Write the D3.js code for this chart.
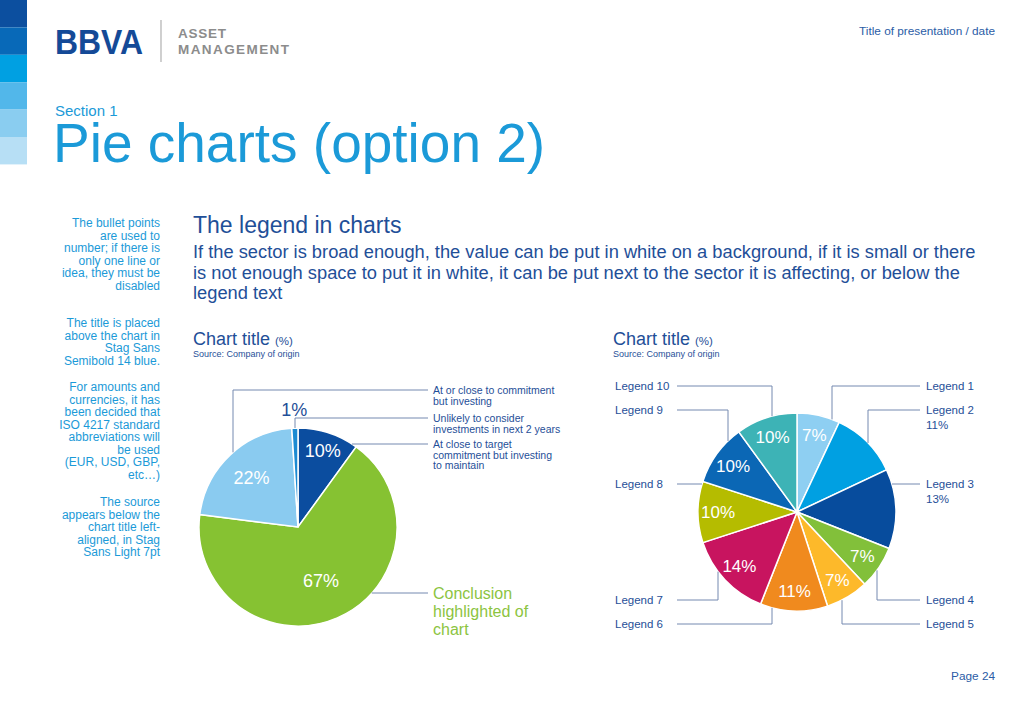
<!DOCTYPE html>
<html>
<head>
<meta charset="utf-8">
<script src="https://cdn.jsdelivr.net/npm/d3@7"></script>
<style>
  body { margin: 0; background: #fff; }
  svg { display: block; font-family: "Liberation Sans", Arial, sans-serif; }
</style>
</head>
<body>
<svg id="page" width="1023" height="708"></svg>
<script>
// Dades dels dos gràfics
const leftLabels = [
    'At close to target commitment but investing to maintain',
    'Conclusion highlighted of chart',
    'At or close to commitment but investing',
    'Unlikely to consider investments in next 2 years'
];
const leftValues = [10, 67, 22, 1];

const rightLabels = ['Legend 1', 'Legend 2', 'Legend 3', 'Legend 4', 'Legend 5',
    'Legend 6', 'Legend 7', 'Legend 8', 'Legend 9', 'Legend 10'];
const rightValues = [7, 11, 13, 7, 7, 11, 14, 10, 10, 10];

const sidebarNotes = [
    ['The bullet points', 'are used to', 'number; if there is', 'only one line or', 'idea, they must be', 'disabled'],
    ['The title is placed', 'above the chart in', 'Stag Sans', 'Semibold 14 blue.'],
    ['For amounts and', 'currencies, it has', 'been decided that', 'ISO 4217 standard', 'abbreviations will', 'be used', '(EUR, USD, GBP,', 'etc…)'],
    ['The source', 'appears below the', 'chart title left-', 'aligned, in Stag', 'Sans Light 7pt']
];

const introLines = [
    'If the sector is broad enough, the value can be put in white on a background, if it is small or there',
    'is not enough space to put it in white, it can be put next to the sector it is affecting, or below the',
    'legend text'
];

// Colors
const leftColors = ['#0b4d9f', '#86c232', '#8acbf0', '#1c8bd2'];
const rightColors = ['#8ecff2', '#00a0e2', '#074c9d', '#82c03a', '#fdb92a',
    '#f08a1e', '#c8145f', '#b5bc00', '#0b67b5', '#3db3b6'];
const darkBlue = '#1f4f98';
const lightBlue = '#1b9ad8';
const leaderColor = '#7489b0';

const svg = d3.select('#page');

// ---------- Capçalera ----------
const bands = ['#0c4f9f', '#0869b8', '#00a0e2', '#52b7ea', '#8acdf0', '#b7dff5'];
svg.selectAll('.band').data(bands).enter().append('rect')
    .attr('x', 0).attr('y', (d, i) => i * 27.4)
    .attr('width', 27).attr('height', 27.4)
    .attr('fill', d => d);

svg.append('text')
    .attr('x', 55).attr('y', 54)
    .attr('font-size', 35).attr('font-weight', 'bold')
    .attr('fill', '#144a97')
    .attr('textLength', 88).attr('lengthAdjust', 'spacingAndGlyphs')
    .text('BBVA');
svg.append('line')
    .attr('x1', 161).attr('x2', 161).attr('y1', 20).attr('y2', 62)
    .attr('stroke', '#b0b0b0').attr('stroke-width', 1.2);
svg.append('text')
    .attr('x', 178).attr('y', 38).attr('font-size', 13.5).attr('font-weight', 'bold')
    .attr('fill', '#8c8c8c').attr('textLength', 48).attr('lengthAdjust', 'spacing')
    .text('ASSET');
svg.append('text')
    .attr('x', 178).attr('y', 54).attr('font-size', 13.5).attr('font-weight', 'bold')
    .attr('fill', '#8c8c8c').attr('textLength', 111).attr('lengthAdjust', 'spacing')
    .text('MANAGEMENT');

svg.append('text')
    .attr('x', 995).attr('y', 35).attr('text-anchor', 'end')
    .attr('font-size', 11.8).attr('fill', '#2b5ca6')
    .text('Title of presentation / date');
svg.append('text')
    .attr('x', 995).attr('y', 680).attr('text-anchor', 'end')
    .attr('font-size', 11.8).attr('fill', '#2b5ca6')
    .text('Page 24');

svg.append('text')
    .attr('x', 55).attr('y', 116).attr('font-size', 15).attr('fill', lightBlue)
    .text('Section 1');
svg.append('text')
    .attr('x', 53).attr('y', 162).attr('font-size', 55).attr('fill', lightBlue)
    .text('Pie charts (option 2)');

// ---------- Notes laterals ----------
const noteStarts = [227, 327, 391, 506];
sidebarNotes.forEach((lines, b) => {
    svg.append('g').selectAll('text').data(lines).enter().append('text')
        .attr('x', 160).attr('y', (d, i) => noteStarts[b] + i * 12.5)
        .attr('text-anchor', 'end').attr('font-size', 12).attr('fill', lightBlue)
        .text(d => d);
});

// ---------- Text introductori ----------
svg.append('text')
    .attr('x', 193).attr('y', 233).attr('font-size', 23).attr('fill', darkBlue)
    .text('The legend in charts');
svg.append('g').selectAll('text').data(introLines).enter().append('text')
    .attr('x', 193).attr('y', (d, i) => 258 + i * 20.5)
    .attr('font-size', 18.3).attr('fill', darkBlue)
    .text(d => d);

function chartTitle(x) {
    const t = svg.append('text').attr('x', x).attr('y', 345).attr('fill', darkBlue);
    t.append('tspan').attr('font-size', 18).text('Chart title ');
    t.append('tspan').attr('font-size', 11.5).text('(%)');
    svg.append('text').attr('x', x).attr('y', 357).attr('font-size', 9).attr('fill', darkBlue)
        .text('Source: Company of origin');
}
chartTitle(193);
chartTitle(613);

// ---------- Utilitats ----------
const radius = 99;
const pie = d3.pie().sort(null).value(d => d);
const arc = d3.arc().innerRadius(0).outerRadius(radius);
const polar = (a, r) => [r * Math.sin(a), -r * Math.cos(a)];

function leaderPath(spec) {
    // spec.dx: vertical drop position (relative), spec.y: label y (relative), spec.endX
    if (spec.dx !== null) {
        const sign = spec.y < 0 ? -1 : 1;
        const ay = sign * Math.sqrt(radius * radius - spec.dx * spec.dx);
        return `M${spec.dx},${ay}V${spec.y}H${spec.endX}`;
    }
    const sign = spec.endX > 0 ? 1 : -1;
    const ax = sign * Math.sqrt(radius * radius - spec.y * spec.y);
    return `M${ax},${spec.y}H${spec.endX}`;
}

// ---------- Gràfic esquerre ----------
const leftCenter = [298, 527];
const gL = svg.append('g').attr('transform', `translate(${leftCenter})`);
const leftArcs = pie(leftValues);

gL.selectAll('path.slice').data(leftArcs).enter().append('path')
    .attr('class', 'slice')
    .attr('d', arc)
    .attr('fill', (d, i) => leftColors[i])
    .attr('stroke', '#fff').attr('stroke-width', 1.5);

const leftLabelRadius = [80, 58, 68, 117];
gL.selectAll('text.pct').data(leftArcs).enter().append('text')
    .attr('class', 'pct')
    .attr('transform', (d, i) => `translate(${polar((d.startAngle + d.endAngle) / 2, leftLabelRadius[i])})`)
    .attr('text-anchor', 'middle').attr('dy', '0.35em')
    .attr('font-size', 18)
    .attr('fill', (d, i) => i === 3 ? darkBlue : '#fff')
    .text(d => d.data + '%');

const leftLeaders = [
    { dx: null, y: -83, endX: 130 },
    { dx: null, y: 66, endX: 130 },
    { dx: -65, y: -137, endX: 130 },
    { dx: -3, y: -109, endX: 130 }
];
gL.selectAll('path.leader').data(leftLeaders).enter().append('path')
    .attr('class', 'leader')
    .attr('d', leaderPath)
    .attr('fill', 'none').attr('stroke', leaderColor).attr('stroke-width', 1);

const leftWrapped = [
    ['At close to target', 'commitment but investing', 'to maintain'],
    ['Conclusion', 'highlighted of', 'chart'],
    ['At or close to commitment', 'but investing'],
    ['Unlikely to consider', 'investments in next 2 years']
];
leftWrapped.forEach((lines, i) => {
    const isMain = i === 1;
    const lh = isMain ? 18 : 10.6;
    const base = leftLeaders[i].y + (isMain ? 6 : 4);
    gL.append('g').selectAll('text').data(lines).enter().append('text')
        .attr('x', 135).attr('y', (d, j) => base + j * lh)
        .attr('font-size', isMain ? 16 : 10.5)
        .attr('fill', isMain ? '#8cc43f' : darkBlue)
        .text(d => d);
});

// ---------- Gràfic dret ----------
const rightCenter = [797, 512];
const gR = svg.append('g').attr('transform', `translate(${rightCenter})`);
const rightArcs = pie(rightValues);

gR.selectAll('path.slice').data(rightArcs).enter().append('path')
    .attr('class', 'slice')
    .attr('d', arc)
    .attr('fill', (d, i) => rightColors[i])
    .attr('stroke', '#fff').attr('stroke-width', 1.5);

// Slices 2 and 3 show the value under the legend text instead
const insideLabel = [true, false, false, true, true, true, true, true, true, true];
gR.selectAll('text.pct').data(rightArcs.filter((d, i) => insideLabel[i])).enter().append('text')
    .attr('class', 'pct')
    .attr('transform', d => `translate(${polar((d.startAngle + d.endAngle) / 2, 79)})`)
    .attr('text-anchor', 'middle').attr('dy', '0.35em')
    .attr('font-size', 17).attr('fill', '#fff')
    .text(d => d.data + '%');

const rightLeaders = [
    { dx: 35, y: -126, endX: 123 },
    { dx: 71, y: -102, endX: 123 },
    { dx: null, y: -28, endX: 123 },
    { dx: 80, y: 88, endX: 123 },
    { dx: 45, y: 112, endX: 123 },
    { dx: -25, y: 112, endX: -120 },
    { dx: -79, y: 88, endX: -120 },
    { dx: null, y: -28, endX: -120 },
    { dx: -69, y: -102, endX: -120 },
    { dx: -25, y: -126, endX: -120 }
];
gR.selectAll('path.leader').data(rightLeaders).enter().append('path')
    .attr('class', 'leader')
    .attr('d', leaderPath)
    .attr('fill', 'none').attr('stroke', leaderColor).attr('stroke-width', 1);

const legendText = gR.selectAll('text.legend').data(rightLabels).enter().append('text')
    .attr('class', 'legend')
    .attr('x', (d, i) => rightLeaders[i].endX > 0 ? 129 : -182)
    .attr('y', (d, i) => rightLeaders[i].y + 4)
    .attr('font-size', 11.5).attr('fill', darkBlue);
legendText.append('tspan').text(d => d);
legendText.filter((d, i) => !insideLabel[i]).append('tspan')
    .attr('x', 129).attr('dy', 14.5)
    .text(d => rightValues[rightLabels.indexOf(d)] + '%');
</script>
</body>
</html>
